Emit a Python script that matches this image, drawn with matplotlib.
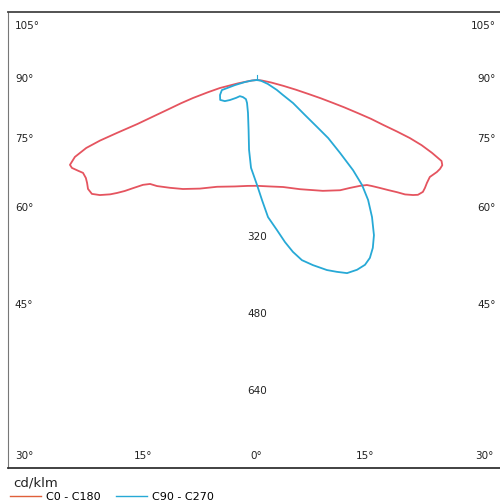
import numpy as np
import matplotlib
matplotlib.use('Agg')
from matplotlib import pyplot as plt
from matplotlib.lines import Line2D

plt.rcParams['font.family'] = ['DejaVu Sans']

# luminous intensity (cd/klm) vs gamma angle in degrees, negative = opposite half plane
gamma_c0 = [-90, -84, -80, -77.8, -76, -74.3, -73, -71.6, -70.6, -69.8, -69.3, -68.9, -68.3,
            -67.1, -65.6, -64.6, -63.1, -61.9, -60.2, -58.8, -57.2, -55.4, -53.8, -52.1, -51.1,
            -50, -48.9, -47.4, -45.8, -43.3, -38.9, -34.2, -27.7, -20.5, -11.7, -5,
            0, 7, 13.7, 21.5, 30.7, 37, 40.7, 44.2, 46.3, 47.3, 48.7, 50, 51.3, 52.3, 53.6,
            54.5, 56, 57.3, 58.8, 60.7, 62.9, 64.1, 65.3, 66.3, 67.4, 68.4, 69.2, 69.8, 70.4,
            71.2, 71.8, 72.6, 73.2, 74, 74.8, 76, 77.5, 80, 84, 90]
int_c0 = [0, 12, 40, 79, 105, 138, 165, 197, 230, 265, 311, 350, 382,
          411, 427, 426, 417, 410, 410, 413, 418, 417, 405, 387, 374,
          359, 342, 322, 310, 303, 288, 274, 255, 237, 226, 221,
          220, 223, 229, 244, 268, 287, 296, 307, 316, 325, 340, 356, 373, 389, 403,
          411, 416, 415, 413, 412, 420, 423, 424, 419, 394, 368, 340, 310, 279,
          250, 222, 190, 165, 138, 111, 83, 56, 30, 10, 0]

gamma_c90 = [-90, -84, -80.5, -77, -74, -67.9, -61.6, -56.7, -53.5, -49.4, -46.7, -39.5, -30,
             -23.5, -15.3, -9.6, -6.5, -3.9, 0, 2.4, 4.6, 7.6, 9.8, 11.8, 14, 16.8, 20.2,
             22.6, 25, 27.8, 30.3, 32.4, 34.6, 37, 40, 42.8, 45, 46.8, 48.7, 50.8, 52, 53.9,
             57.4, 60, 63.4, 70, 80, 90]
int_c90 = [0, 10, 25, 47, 76, 83, 87, 80, 70, 57, 49, 46, 46,
           52, 71, 105, 146, 183, 218, 250, 286, 315, 342, 365, 386, 402, 421,
           432, 443, 446, 445, 438, 424, 404, 372, 340, 309, 274, 230, 191, 158, 123,
           89, 62, 46, 24, 8, 0]

radial_ticks = [320, 480, 640]
side_labels = ['105°', '90°', '75°', '60°', '45°']
side_ypix = [26, 79, 139, 208, 305]
bottom_labels = ['30°', '15°', '0°', '15°', '30°']
bottom_xpix = [24, 143, 256, 365, 484]

red = '#e5545f'
blue = '#27a9d6'

fig = plt.figure(figsize=(5, 5.03), dpi=100)
# frame in pixels: left 8, right 501, top 12, bottom 468
L, R, T, B = 8, 501, 12, 468
W, H = 500, 503
ax = fig.add_axes([L / W, (H - B) / H, (R - L) / W, (B - T) / H])

scale = 0.481  # px per cd/klm
cx, cy = 257, 80
ax.set_xlim((L - cx) / scale, (R - cx) / scale)
ax.set_ylim(-(B - cy) / scale, -(T - cy) / scale)

g = np.radians(gamma_c0)
ax.plot(np.array(int_c0) * np.sin(g), -np.array(int_c0) * np.cos(g), color=red, lw=1.3,
        solid_joinstyle='round')
g = np.radians(gamma_c90)
ax.plot(np.array(int_c90) * np.sin(g), -np.array(int_c90) * np.cos(g), color=blue, lw=1.3,
        solid_joinstyle='round')
ax.plot([0, 0], [0, 10], color=blue, lw=0.8)

for r in radial_ticks:
    ax.text(0, -r - 6, str(r), ha='center', va='center', fontsize=7.5, color='#222222')

for lab, yp in zip(side_labels, side_ypix):
    yf = (B - yp) / (B - T)
    ax.text(0.014, yf, lab, transform=ax.transAxes, ha='left', va='center',
            fontsize=7.5, color='#222222')
    ax.text(0.99, yf, lab, transform=ax.transAxes, ha='right', va='center',
            fontsize=7.5, color='#222222')

for lab, xp in zip(bottom_labels, bottom_xpix):
    ax.text((xp - L) / (R - L), (B - 456) / (B - T), lab, transform=ax.transAxes,
            ha='center', va='center', fontsize=7.5, color='#222222')

ax.set_xticks([])
ax.set_yticks([])
ax.spines['right'].set_visible(False)
ax.spines['top'].set_color('#444444')
ax.spines['top'].set_linewidth(1.3)
ax.spines['bottom'].set_color('#333333')
ax.spines['bottom'].set_linewidth(1.3)
ax.spines['left'].set_color('#777777')
ax.spines['left'].set_linewidth(0.8)

fig.text(13 / W, 1 - 483 / H, 'cd/klm', ha='left', va='center', fontsize=9.5, color='#222222')
handles = [Line2D([], [], color='#e0603a', lw=1.0), Line2D([], [], color=blue, lw=1.0)]
fig.legend(handles, ['C0 - C180', 'C90 - C270'], loc='center left',
           bbox_to_anchor=(4 / W, 1 - 497 / H), ncol=2, frameon=False, fontsize=8,
           handlelength=2.8, handletextpad=0.45, columnspacing=1.4, borderpad=0)

fig.savefig('out.png', dpi=100)
